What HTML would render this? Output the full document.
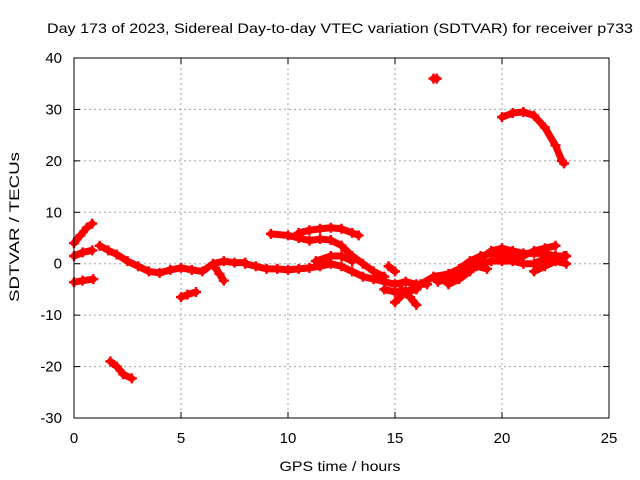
<!DOCTYPE html>
<html><head><meta charset="utf-8"><style>
body{margin:0;background:#fff}
svg{display:block;font-family:"Liberation Sans",sans-serif}
</style></head><body>
<svg id="chart" width="640" height="480" viewBox="0 0 640 480">
<text x="340" y="33" font-size="14" text-anchor="middle" textLength="586" lengthAdjust="spacingAndGlyphs">Day 173 of 2023, Sidereal Day-to-day VTEC variation (SDTVAR) for receiver p733</text>
<text transform="translate(19,227) rotate(-90)" font-size="14" text-anchor="middle" textLength="150" lengthAdjust="spacingAndGlyphs">SDTVAR / TECUs</text>
<text x="340" y="471" font-size="14" text-anchor="middle" textLength="121" lengthAdjust="spacingAndGlyphs">GPS time / hours</text>
<g id="grid"></g><g id="ticks"></g><g id="marks"></g>
<rect x="74" y="58" width="535" height="360" fill="none" stroke="#000" stroke-width="1"/>
</svg>
<script>
const xTicks=[0,5,10,15,20,25];
const yTicks=[-30,-20,-10,0,10,20,30,40];
const tracks=[
[[0,4],[0.3,5.5],[0.6,7],[0.85,7.8]],
[[0,1.5],[0.4,2.2],[0.85,2.6]],
[[0,-3.6],[0.4,-3.3],[0.9,-3]],
[[1.2,3.5],[1.6,2.6],[2,1.8],[2.5,0.5],[3,-0.5],[3.5,-1.5],[4,-1.8],[4.5,-1.2],[5,-0.8],[5.5,-1.2],[6,-1.5],[6.5,0],[7,0.5],[7.5,0.2],[8,0.2]],
[[6.6,-0.8],[6.8,-2],[7,-3.3]],
[[8,0],[8.5,-0.5],[9,-1],[9.5,-1],[10,-1.2],[10.5,-1],[11,-0.8],[11.5,-0.5],[12,0],[12.5,-0.5],[13,-1.5],[13.5,-2.5],[14,-3],[14.5,-3.5],[15,-4],[15.5,-3.5],[16,-4],[16.5,-4]],
[[9.2,5.8],[10,5.5],[10.5,5],[11,4.5],[11.5,4.8],[12,4.6],[12.5,3.5],[13,1.5],[13.5,0],[14,-1.5],[14.5,-2.5]],
[[10.5,6],[11,6.5],[11.5,6.8],[12,7],[12.5,6.8],[13,6],[13.3,5.5]],
[[11.3,0.5],[12,1.5],[12.5,1.5],[13,0.5]],
[[14.5,-5],[15,-5.5],[15.5,-5.5],[16,-5]],
[[15,-7.5],[15.5,-5.5],[16,-4.5]],
[[15.3,-5],[15.7,-6.5],[16,-8]],
[[14.7,-0.5],[15,-1.5]],
[[16.2,-4],[16.8,-2.5],[17.5,-2],[18,-1],[18.5,0.5],[19,1.5],[19.5,2],[20,1.5],[20.5,1.5],[21,1.5],[21.5,2.5],[22,3],[22.5,3.5]],
[[17,-3.5],[17.5,-3],[18,-2],[18.5,-1],[19,0],[19.5,0.5],[20,0.5],[20.5,0.5],[21,0],[21.5,0],[22,1],[22.5,1.5],[22.9,1.5]],
[[17.5,-4],[18,-3],[18.5,-1.5],[19,1],[19.5,2.5],[20,3],[20.5,2.5],[21,2],[21.5,2],[22,2],[22.5,1.5],[23,1.5]],
[[18.8,-0.5],[19.3,-1]],
[[21.5,-1.5],[22,-0.5],[22.5,0.5],[23,0]],
[[1.7,-19],[2,-20],[2.3,-21.5],[2.7,-22.3]],
[[5,-6.5],[5.3,-6],[5.7,-5.5]],
[[16.8,36],[16.95,36]],
[[20,28.5],[20.5,29.3],[21,29.5],[21.5,28.8],[22,26.5],[22.5,23],[22.8,20],[22.9,19.5]]
];
const X0=74,X1=609,Y0=418,Y1=58,xmin=0,xmax=25,ymin=-30,ymax=40;
const sx=v=>X0+(v-xmin)/(xmax-xmin)*(X1-X0);
const sy=v=>Y0-(v-ymin)/(ymax-ymin)*(Y0-Y1);
const NS='http://www.w3.org/2000/svg';
const g=document.getElementById('grid'),t=document.getElementById('ticks'),m=document.getElementById('marks');
function mk(tag,a,p){const e=document.createElementNS(NS,tag);for(const k in a)e.setAttribute(k,a[k]);p.appendChild(e);return e;}
xTicks.forEach(v=>{const x=sx(v);
 if(v>xmin&&v<xmax){const l=mk('line',{x1:x,x2:x,y1:Y1,y2:Y0,stroke:'#a0a0a0','stroke-dasharray':'2,3'},g);
 
 }
 mk('line',{x1:x,x2:x,y1:Y0,y2:Y0-6,stroke:'#000'},t);mk('line',{x1:x,x2:x,y1:Y1,y2:Y1+6,stroke:'#000'},t);
 const s=mk('text',{x:x,y:443,'font-size':15,'text-anchor':'middle'},t);s.textContent=v;
 
 });
yTicks.forEach(v=>{const y=sy(v);
 if(v>ymin&&v<ymax){const l=mk('line',{x1:X0,x2:X1,y1:y,y2:y,stroke:'#a0a0a0','stroke-dasharray':'2,3'},g);
 
 }
 mk('line',{x1:X0,x2:X0+6,y1:y,y2:y,stroke:'#000'},t);mk('line',{x1:X1,x2:X1-6,y1:y,y2:y,stroke:'#000'},t);
 const s=mk('text',{x:62,y:y+5,'font-size':15,'text-anchor':'end'},t);s.textContent=v;
 
 });
tracks.forEach((tr,i)=>{
 const pl=mk('polyline',{points:tr.map(p=>sx(p[0])+','+sy(p[1])).join(' '),fill:'none',stroke:'#f00','stroke-width':7,'stroke-linejoin':'round','stroke-linecap':'round'},m);
 
 
 tr.forEach(p=>{const x=sx(p[0]),y=sy(p[1]);
  mk('path',{d:`M${x-5},${y}H${x+5}M${x},${y-5}V${y+5}`,stroke:'#f00','stroke-width':2.5},m);});
});
</script>
</body></html>
